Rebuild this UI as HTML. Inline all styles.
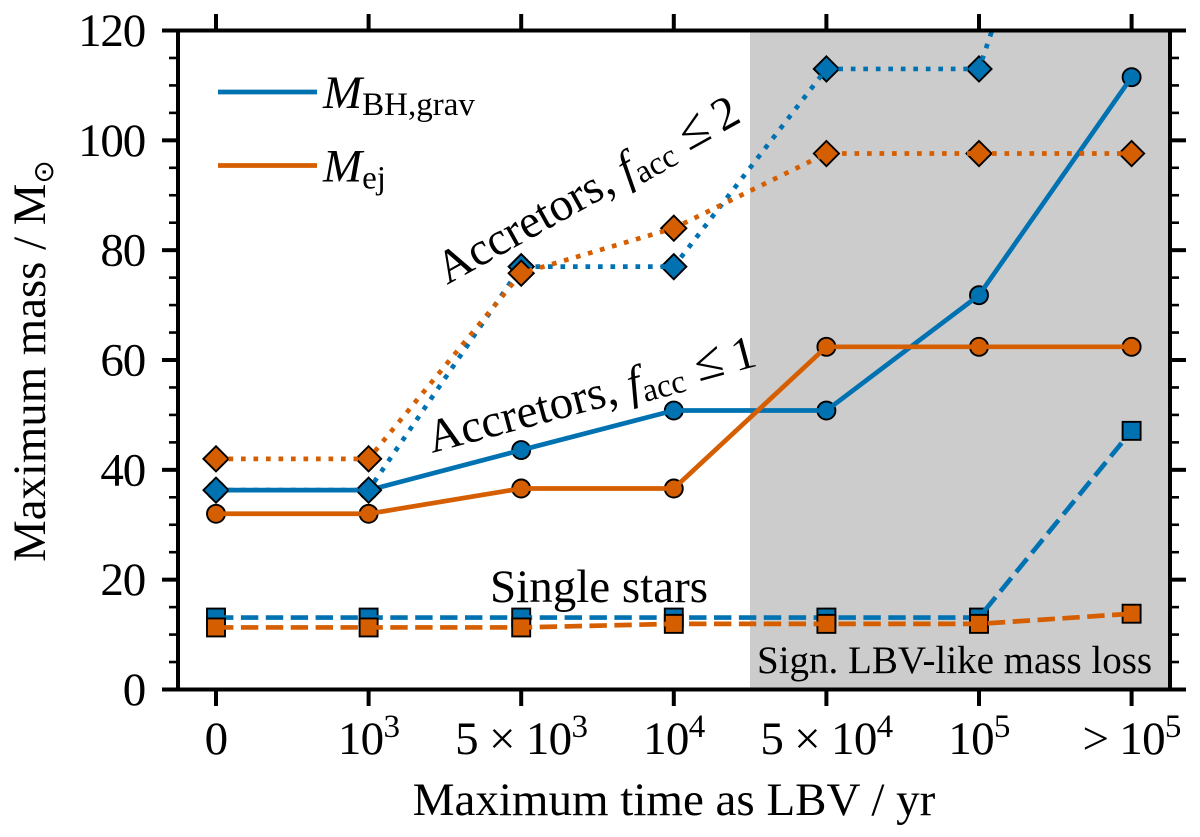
<!DOCTYPE html>
<html lang="en">
<head>
<meta charset="utf-8">
<title>Maximum mass vs maximum time as LBV</title>
<style>
html,body{margin:0;padding:0;background:#fff;width:1200px;height:837px;overflow:hidden}
svg{display:block}
text{font-family:"Liberation Serif","DejaVu Serif",serif;fill:#000}
</style>
</head>
<body>
<svg id="chart" xmlns="http://www.w3.org/2000/svg" width="1200" height="837" viewBox="0 0 1200 837">
<defs><clipPath id="plot-clip"><rect x="178" y="30.5" width="992" height="659"/></clipPath></defs>
<rect x="750" y="30.5" width="420" height="659" fill="#cccccc"/>
<g id="marks" clip-path="url(#plot-clip)"></g>
<g id="axes"></g>

<text transform="translate(45,361) rotate(-90)" text-anchor="middle" font-size="46.8">Maximum mass / M<tspan font-family="DejaVu Sans" font-size="28" dy="8">⊙</tspan></text>
<text x="674" y="815" text-anchor="middle" font-size="47">Maximum time as LBV / yr</text>

<line x1="218" x2="317" y1="92" y2="92" stroke="#0072b2" stroke-width="4.7"/>
<text x="323" y="108" font-size="47"><tspan font-style="italic">M</tspan><tspan font-size="33" dy="7">BH,grav</tspan></text>
<line x1="218" x2="317" y1="165.5" y2="165.5" stroke="#d55e00" stroke-width="4.7"/>
<text x="323" y="181.5" font-size="47"><tspan font-style="italic">M</tspan><tspan font-size="33" dy="7">ej</tspan></text>

<text transform="translate(447,285) rotate(-29)" font-size="47">Accretors, <tspan font-style="italic">f</tspan><tspan font-size="33" dy="6">acc</tspan><tspan dy="-6" dx="13" font-size="52">≤</tspan><tspan dx="10">2</tspan></text>
<text transform="translate(432,453) rotate(-15)" font-size="47">Accretors, <tspan font-style="italic">f</tspan><tspan font-size="33" dy="6">acc</tspan><tspan dy="-6" dx="13" font-size="52">≤</tspan><tspan dx="10">1</tspan></text>
<text x="490" y="602" font-size="47">Single stars</text>
<text x="757" y="673" font-size="39">Sign. LBV-like mass loss</text>
</svg>
<script>
var xTickBase = ["0", "10", "5 × 10", "10", "5 × 10", "10", "> 10"];
var xTickExp = ["", "3", "3", "4", "4", "5", "5"];
var yMajorTicks = [0, 20, 40, 60, 80, 100, 120];
var yMinorTicks = [5, 10, 15, 25, 30, 35, 45, 50, 55, 65, 70, 75, 85, 90, 95, 105, 110, 115];

var accretor2Bh = [36.3, 36.3, 77, 77, 113, 113, 195];
var accretor2Ej = [42, 42, 75.8, 84, 97.6, 97.6, 97.6];
var accretor1Bh = [36.3, 36.3, 43.6, 50.8, 50.8, 71.8, 111.5];
var accretor1Ej = [32, 32, 36.6, 36.6, 62.4, 62.4, 62.4];
var singleBh = [13.1, 13.1, 13.1, 13.1, 13.1, 13.1, 47.1];
var singleEj = [11.3, 11.3, 11.3, 11.95, 11.95, 11.95, 13.8];

var NS = 'http://www.w3.org/2000/svg';
var BLUE = '#0072b2', ORANGE = '#d55e00';
function xPos(i) { return 216 + i * 152.6; }
function yPos(v) { return 689.5 - v * 659 / 120; }
function make(tag, parent, attrs) {
  var el = document.createElementNS(NS, tag);
  for (var k in attrs) el.setAttribute(k, attrs[k]);
  parent.appendChild(el);
  return el;
}
function drawMarker(parent, kind, x, y, color) {
  var style = { fill: color, stroke: '#000', 'stroke-width': 1.9 };
  var el;
  if (kind === 'circle') {
    el = make('circle', parent, Object.assign({ cx: x, cy: y, r: 9 }, style));
  } else if (kind === 'square') {
    el = make('rect', parent, Object.assign({ x: x - 9, y: y - 9, width: 18, height: 18 }, style));
  } else {
    var d = 12.6;
    el = make('polygon', parent, Object.assign({ points: (x - d) + ',' + y + ' ' + x + ',' + (y - d) + ' ' + (x + d) + ',' + y + ' ' + x + ',' + (y + d) }, style));
  }
  return el;
}
var seriesList = [
  { id: 'single-bh', v: singleBh, c: BLUE, m: 'square', dash: '17.4 7.5' },
  { id: 'single-ej', v: singleEj, c: ORANGE, m: 'square', dash: '17.4 7.5' },
  { id: 'accretor1-bh', v: accretor1Bh, c: BLUE, m: 'circle', dash: '' },
  { id: 'accretor1-ej', v: accretor1Ej, c: ORANGE, m: 'circle', dash: '' },
  { id: 'accretor2-bh', v: accretor2Bh, c: BLUE, m: 'diamond', dash: '4.7 7.8' },
  { id: 'accretor2-ej', v: accretor2Ej, c: ORANGE, m: 'diamond', dash: '4.7 7.8' }
];
var marks = document.getElementById('marks');
seriesList.forEach(function (s) {
  s.v.forEach(function (val, i) {
    var mk = drawMarker(marks, s.m, xPos(i), yPos(val), s.c);
    
    
  });
  var pts = s.v.map(function (val, i) { return xPos(i) + ',' + yPos(val); }).join(' ');
  var line = make('polyline', marks, { points: pts, fill: 'none', stroke: s.c, 'stroke-width': 4.7, 'stroke-linejoin': 'round' });
  if (s.dash) line.setAttribute('stroke-dasharray', s.dash);
  
  
});

var axes = document.getElementById('axes');
var frame = make('rect', axes, { x: 178, y: 30.5, width: 992, height: 659, fill: 'none', stroke: '#000', 'stroke-width': 4 });



xTickBase.forEach(function (base, i) {
  var x = xPos(i);
  var t1 = make('line', axes, { x1: x, x2: x, y1: 689.5, y2: 706, stroke: '#000', 'stroke-width': 4 });
  
  
  var t2 = make('line', axes, { x1: x, x2: x, y1: 30.5, y2: 14, stroke: '#000', 'stroke-width': 4 });
  
  
  var label = make('text', axes, { x: x, y: 754, 'text-anchor': 'middle', 'font-size': 47, 'letter-spacing': '-0.7' });
  
  
  var b = make('tspan', label, {});
  b.textContent = base;
  if (xTickExp[i]) {
    var e = make('tspan', label, { 'font-size': 33, dy: -17 });
    e.textContent = xTickExp[i];
  }
});
yMajorTicks.forEach(function (v) {
  var y = yPos(v);
  var t1 = make('line', axes, { x1: 162, x2: 178, y1: y, y2: y, stroke: '#000', 'stroke-width': 4 });
  
  
  var t2 = make('line', axes, { x1: 1170, x2: 1186, y1: y, y2: y, stroke: '#000', 'stroke-width': 4 });
  
  
  var label = make('text', axes, { x: 145, y: y + 15.5, 'text-anchor': 'end', 'font-size': 47, 'letter-spacing': '-1.2' });
  label.textContent = String(v);
  
  
});
yMinorTicks.forEach(function (v) {
  var y = yPos(v);
  var t1 = make('line', axes, { x1: 169, x2: 178, y1: y, y2: y, stroke: '#000', 'stroke-width': 2.6 });
  
  
  var t2 = make('line', axes, { x1: 1170, x2: 1179, y1: y, y2: y, stroke: '#000', 'stroke-width': 2.6 });
  
  
});
</script>
</body>
</html>
